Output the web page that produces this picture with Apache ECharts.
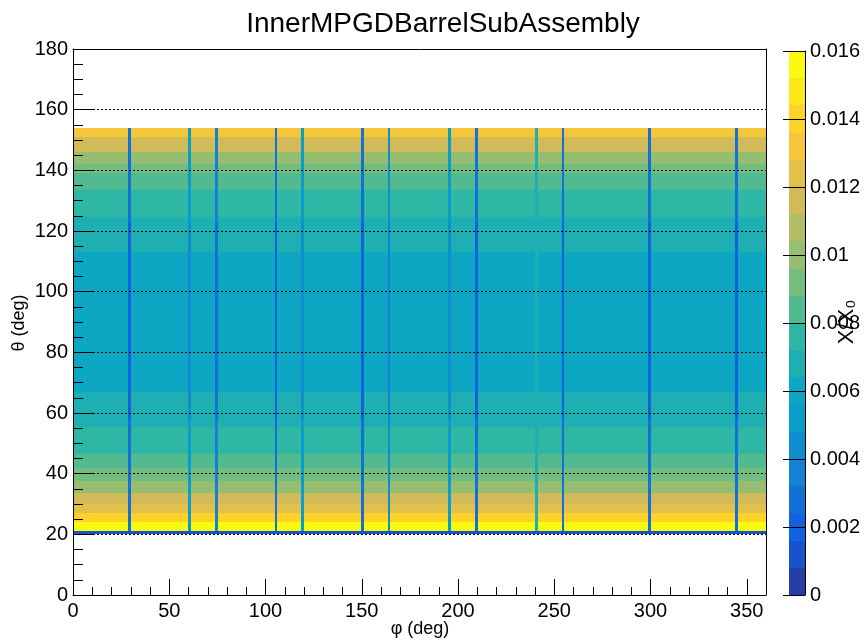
<!DOCTYPE html>
<html><head><meta charset="utf-8">
<script src="https://cdn.jsdelivr.net/npm/echarts@6/dist/echarts.min.js"></script>
<style>html,body{margin:0;padding:0;background:#fff}#c{width:867px;height:642px}</style>
</head><body><div id="c"></div>
<script>
const chartTitle = 'InnerMPGDBarrelSubAssembly';
const xTitle = 'φ (deg)';
const yTitle = 'θ (deg)';
const zTitle = 'X/X₀';

// φ-uniform background bands in θ (deg) and their X/X0 values
const bandThetaLow  = [20, 21, 24, 27, 30, 33.5, 37.5, 42, 46.5, 55.5, 67, 113, 124.5, 133.5, 139, 142, 146, 151];
const bandThetaHigh = [21, 24, 27, 30, 33.5, 37.5, 42, 46.5, 55.5, 67, 113, 124.5, 133.5, 139, 142, 146, 151, 154];
const bandValue     = [0.0012, 0.0156, 0.0140, 0.0126, 0.0116, 0.0102, 0.0094, 0.0086, 0.0078, 0.0070, 0.0060,
                       0.0070, 0.0078, 0.0086, 0.0094, 0.0102, 0.0116, 0.0132];

// narrow φ strips
const stripPhiLow     = [28.7, 59.7, 73.7, 104.7, 118.7, 149.7, 163.5, 194.8, 208.8, 239.9, 253.9, 298.9, 343.9];
const stripPhiHigh    = [30.1, 61.1, 75.1, 106.1, 120.1, 151.1, 164.9, 196.2, 210.2, 241.3, 255.3, 300.3, 345.3];
const stripOuterValue = [0.0028, 0.0052, 0.0034, 0.0028, 0.0052, 0.0028, 0.0042, 0.0052, 0.0028, 0.0072, 0.0028, 0.0028, 0.0028];
const stripInnerValue = [0.0020, 0.0046, 0.0026, 0.0020, 0.0046, 0.0020, 0.0036, 0.0046, 0.0020, 0.0066, 0.0020, 0.0020, 0.0020];
const stripSegThetaLow  = [21, 58, 123];
const stripSegThetaHigh = [58, 123, 154];
const stripSegInner     = [false, true, false];

// colour scale
const zMin = 0, zMax = 0.016, zLevels = 20;
const zTicks = [0, 0.002, 0.004, 0.006, 0.008, 0.01, 0.012, 0.014, 0.016];
const birdStops = [0, 0.125, 0.25, 0.375, 0.5, 0.625, 0.75, 0.875, 1];
const birdR = [0.2082, 0.0592, 0.0780, 0.0232, 0.1802, 0.5301, 0.8186, 0.9956, 0.9764];
const birdG = [0.1664, 0.3599, 0.5041, 0.6419, 0.7178, 0.7492, 0.7328, 0.7862, 0.9832];
const birdB = [0.5293, 0.8684, 0.8385, 0.7914, 0.6425, 0.4662, 0.3499, 0.1968, 0.0539];

function bird(f) {
  let k = 0;
  while (k < birdStops.length - 2 && f > birdStops[k + 1]) k++;
  const t = (f - birdStops[k]) / (birdStops[k + 1] - birdStops[k]);
  const c = a => Math.round(255 * (a[k] + t * (a[k + 1] - a[k])));
  return 'rgb(' + c(birdR) + ',' + c(birdG) + ',' + c(birdB) + ')';
}
const step = (zMax - zMin) / zLevels;
const pieces = [];
for (let i = 0; i < zLevels; i++) {
  const idx = Math.floor((i + 0.99) * 255 / zLevels);
  const p = { gte: zMin + i * step, color: bird(idx / 254) };
  if (i < zLevels - 1) p.lt = zMin + (i + 1) * step; else p.lte = zMax;
  pieces.push(p);
}

// cells: [phi0, phi1, theta0, theta1, value]
const cells = [];
for (let b = 0; b < bandValue.length; b++) cells.push([0, 360, bandThetaLow[b], bandThetaHigh[b], bandValue[b]]);
for (let s = 0; s < stripPhiLow.length; s++) {
  for (let g = 0; g < stripSegThetaLow.length; g++) {
    cells.push([stripPhiLow[s], stripPhiHigh[s], stripSegThetaLow[g], stripSegThetaHigh[g],
                stripSegInner[g] ? stripInnerValue[s] : stripOuterValue[s]]);
  }
}
const barCells = [];
for (let i = 0; i < zLevels; i++) barCells.push([0, 1, zMin + i * step, zMin + (i + 1) * step, zMin + (i + 0.5) * step]);

function rectItem(params, api) {
  const p0 = api.coord([api.value(0), api.value(3)]);
  const p1 = api.coord([api.value(1), api.value(2)]);
  const x0 = Math.round(p0[0]), y0 = Math.round(p0[1]);
  const x1 = Math.round(p1[0]), y1 = Math.round(p1[1]);
  return { type: 'rect', shape: { x: x0, y: y0, width: x1 - x0, height: y1 - y0 },
           style: { fill: api.visual('color') } };
}
// colour-bar ticks: from right edge of the bar, 22 px to the left
function tickItem(params, api) {
  const p = api.coord([1, api.value(0)]);
  const y = Math.round(p[1]) + 0.5;
  return { type: 'line', shape: { x1: p[0], y1: y, x2: p[0] - 22, y2: y },
           style: { stroke: '#000', lineWidth: 1 } };
}

const FONT = 'Liberation Sans, Arial, Helvetica, sans-serif';
const lbl = { color: '#000', fontSize: 20, fontFamily: FONT };
const blk = { color: '#000', width: 1 };

const chart = echarts.init(document.getElementById('c'), null, { renderer: 'canvas' });
chart.setOption({
  animation: false,
  backgroundColor: '#fff',
  grid: [
    { left: 73, top: 49, width: 693, height: 546, containLabel: false, outerBoundsMode: 'none' },
    { left: 789, top: 51, width: 16, height: 544, containLabel: false, outerBoundsMode: 'none' }
  ],
  xAxis: [
    { gridIndex: 0, type: 'value', min: 0, max: 360, interval: 50, z: 5,
      axisLine: { show: true, onZero: false, lineStyle: blk },
      axisTick: { show: true, inside: true, length: 16, lineStyle: blk },
      minorTick: { show: true, splitNumber: 5, length: 8, lineStyle: blk },
      axisLabel: Object.assign({ margin: 6, showMaxLabel: false }, lbl),
      splitLine: { show: false } },
    { gridIndex: 0, type: 'value', min: 0, max: 360, position: 'top', z: 5,
      axisLine: { show: true, onZero: false, lineStyle: blk },
      axisTick: { show: false }, axisLabel: { show: false }, splitLine: { show: false } },
    { gridIndex: 1, type: 'value', min: 0, max: 1, show: false }
  ],
  yAxis: [
    { gridIndex: 0, type: 'value', min: 0, max: 180, interval: 20, z: 5,
      axisLine: { show: true, onZero: false, lineStyle: blk },
      axisTick: { show: true, inside: true, length: 21, lineStyle: blk },
      minorTick: { show: true, splitNumber: 4, length: 10, lineStyle: blk },
      axisLabel: Object.assign({ margin: 5 }, lbl),
      splitLine: { show: true, showMinLine: false, showMaxLine: false,
                   lineStyle: { color: '#000', width: 1, type: [2, 2] } } },
    { gridIndex: 0, type: 'value', min: 0, max: 180, position: 'right', z: 5,
      axisLine: { show: true, onZero: false, lineStyle: blk },
      axisTick: { show: false }, minorTick: { show: false }, axisLabel: { show: false }, splitLine: { show: false } },
    { gridIndex: 1, type: 'value', min: zMin, max: zMax, interval: 0.002, position: 'right', z: 5,
      axisLine: { show: true, onZero: false, lineStyle: blk },
      axisTick: { show: false }, minorTick: { show: false },
      axisLabel: Object.assign({ margin: 5 }, lbl),
      splitLine: { show: false }, splitArea: { show: false } }
  ],
  visualMap: {
    type: 'piecewise', show: false, dimension: 4, seriesIndex: [0, 1], pieces: pieces
  },
  series: [
    { type: 'custom', xAxisIndex: 0, yAxisIndex: 0, renderItem: rectItem, data: cells,
      encode: { x: [0, 1], y: [2, 3] }, clip: true },
    { type: 'custom', xAxisIndex: 2, yAxisIndex: 2, renderItem: rectItem, data: barCells,
      encode: { x: [0, 1], y: [2, 3] } },
    { type: 'custom', xAxisIndex: 2, yAxisIndex: 2, renderItem: tickItem, z: 6,
      data: zTicks.map(v => [v]), encode: { y: 0 } }
  ],
  graphic: [
    { type: 'text', x: 443, y: 24, z: 10,
      style: { text: chartTitle, fontSize: 28, fontFamily: FONT, fill: '#000', align: 'center', verticalAlign: 'middle' } },
    { type: 'text', x: 420, y: 629, z: 10,
      style: { text: xTitle, fontSize: 18, fontFamily: FONT, fill: '#000', align: 'center', verticalAlign: 'middle' } },
    { type: 'text', x: 19, y: 323, rotation: Math.PI / 2, z: 10,
      style: { text: yTitle, fontSize: 18, fontFamily: FONT, fill: '#000', align: 'center', verticalAlign: 'middle' } },
    { type: 'text', x: 847, y: 322, rotation: Math.PI / 2, z: 10,
      style: { text: zTitle, fontSize: 22, fontFamily: FONT, fill: '#000', align: 'center', verticalAlign: 'middle' } }
  ]
});
</script>
</body></html>
